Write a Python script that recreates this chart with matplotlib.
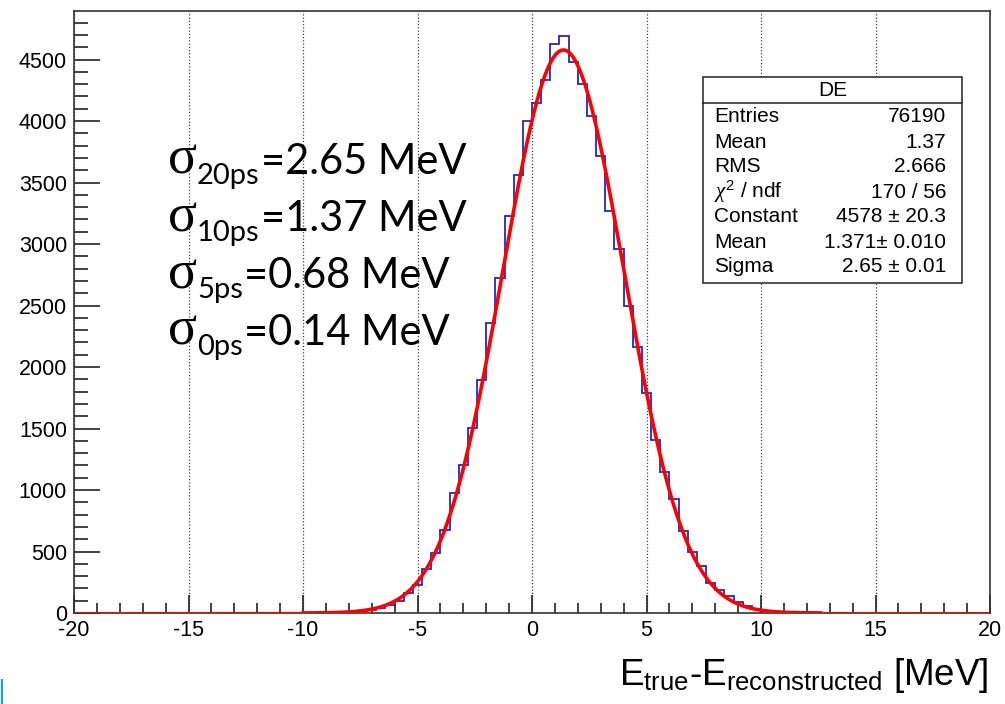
import numpy as np
import matplotlib
matplotlib.use("Agg")
import matplotlib.pyplot as plt
from matplotlib.patches import Rectangle
from matplotlib.lines import Line2D
from matplotlib.ticker import MultipleLocator

plt.rcParams['axes.unicode_minus'] = False
plt.rcParams['mathtext.fontset'] = 'custom'
plt.rcParams['mathtext.rm'] = 'Liberation Sans'
plt.rcParams['mathtext.it'] = 'Liberation Serif:italic'
plt.rcParams['font.family'] = ['Liberation Sans', 'DejaVu Sans']

# histogram "DE": 100 bins of 0.4 MeV in [-20, 20], only filled bins listed
x_min, x_max, n_bins = -20, 20, 100
first_filled_edge = -8.4
counts = [5, 9, 14, 24, 40, 62, 100, 165, 228, 356,
          490, 678, 975, 1205, 1505, 1895, 2360, 2720, 3230, 3560,
          4000, 4145, 4335, 4630, 4690, 4480, 4305, 4045, 3720, 3265,
          2960, 2500, 2160, 1790, 1410, 1150, 925, 665, 498, 385,
          248, 190, 135, 88, 55, 32, 18, 10, 5, 3, 1]

# gaussian fit (from the stats box)
fit_constant = 4578
fit_mean = 1.371
fit_sigma = 2.65
fit_range = (-10, 12.6)

stats_title = "DE"
stats_labels = ["Entries", "Mean", "RMS", r"$\chi^{2}$ / ndf", "Constant", "Mean", "Sigma"]
stats_values = ["76190", "1.37", "2.666", "170 / 56", "4578 ± 20.3", "1.371± 0.010", "2.65 ± 0.01"]

res_subscripts = ["20ps", "10ps", "5ps", "0ps"]
res_values = ["2.65", "1.37", "0.68", "0.14"]

W, H = 1005, 704
fig = plt.figure(figsize=(W / 100, H / 100), dpi=100)
ax = fig.add_axes([74 / W, 91 / H, (990 - 74) / W, (613 - 11) / H])

edges = np.linspace(x_min, x_max, n_bins + 1)
full = np.zeros(n_bins)
i0 = int(round((first_filled_edge - x_min) / (edges[1] - edges[0])))
full[i0:i0 + len(counts)] = counts
ax.stairs(full, edges, baseline=None, color='#2626c4', lw=1.3, zorder=3)

def gauss(x):
    return fit_constant * np.exp(-0.5 * ((x - fit_mean) / fit_sigma) ** 2)

xs = np.linspace(x_min, x_max, 1200)
ax.plot(xs, gauss(xs), color='red', lw=1.5, zorder=4)
xf = np.linspace(fit_range[0], fit_range[1], 800)
ax.plot(xf, gauss(xf), color='red', lw=2.6, zorder=4)

ax.set_xlim(x_min, x_max)
ax.set_ylim(0, 4895)
ax.xaxis.set_major_locator(MultipleLocator(5))
ax.xaxis.set_minor_locator(MultipleLocator(1))
ax.yaxis.set_major_locator(MultipleLocator(500))
ax.yaxis.set_minor_locator(MultipleLocator(100))
ax.grid(axis='x', which='major', linestyle=(0, (1, 1.6)), color='#444444', lw=0.9)
ax.tick_params(axis='both', which='both', direction='in', color='#222222', width=1.2,
               bottom=True, left=True, top=False, right=False)
ax.tick_params(axis='x', which='major', length=13, labelsize=15.5, pad=5)
ax.tick_params(axis='x', which='minor', length=7)
ax.tick_params(axis='y', which='major', length=19, labelsize=15.5, pad=5)
ax.tick_params(axis='y', which='minor', length=10)
for s in ax.spines.values():
    s.set_linewidth(1.2)
    s.set_color('#333333')

# x axis title
fig.text(988 / W, 1 - 685 / H,
         r"$\mathrm{E}_{\mathrm{true}}$-$\mathrm{E}_{\mathrm{reconstructed}}$ [MeV]",
         ha='right', va='baseline', fontsize=26.5)

# stats box
bx0, bx1, by0, by1, bsep = 703, 962, 77, 283, 103
fig.add_artist(Rectangle((bx0 / W, 1 - by1 / H), (bx1 - bx0) / W, (by1 - by0) / H,
                         transform=fig.transFigure, facecolor='white',
                         edgecolor='#222222', lw=1.1, zorder=5))
fig.add_artist(Line2D([bx0 / W, bx1 / W], [1 - bsep / H, 1 - bsep / H],
                      transform=fig.transFigure, color='#222222', lw=1.1, zorder=6))
fig.text((bx0 + bx1) / 2 / W, 1 - (by0 + bsep) / 2 / H, stats_title,
         ha='center', va='center', fontsize=15, zorder=7)
for k, (lab, val) in enumerate(zip(stats_labels, stats_values)):
    yy = 1 - (117 + 25 * k) / H
    fig.text(714 / W, yy, lab, ha='left', va='center', fontsize=15, zorder=7)
    fig.text(946 / W, yy, val, ha='right', va='center', fontsize=15, zorder=7)

# resolution annotations
renderer = fig.canvas.get_renderer()
for k, (sub, val) in enumerate(zip(res_subscripts, res_values)):
    base = 174 + 57 * k
    x = 168
    t = fig.text(x / W, 1 - base / H, "σ", family='Liberation Serif',
                 fontsize=39, va='baseline', ha='left', zorder=7)
    x += t.get_window_extent(renderer).width
    t = fig.text(x / W, 1 - (base + 10) / H, sub, family='Lato',
                 fontsize=21, va='baseline', ha='left', zorder=7)
    x += t.get_window_extent(renderer).width + 1
    fig.text(x / W, 1 - base / H, "=" + val + " MeV", family='Lato',
             fontsize=30, va='baseline', ha='left', zorder=7)

fig.add_artist(Line2D([2 / W, 2 / W], [0, 24 / H], transform=fig.transFigure,
                      color='#1a9ee0', lw=1.5))

fig.savefig("out.png", dpi=100)
